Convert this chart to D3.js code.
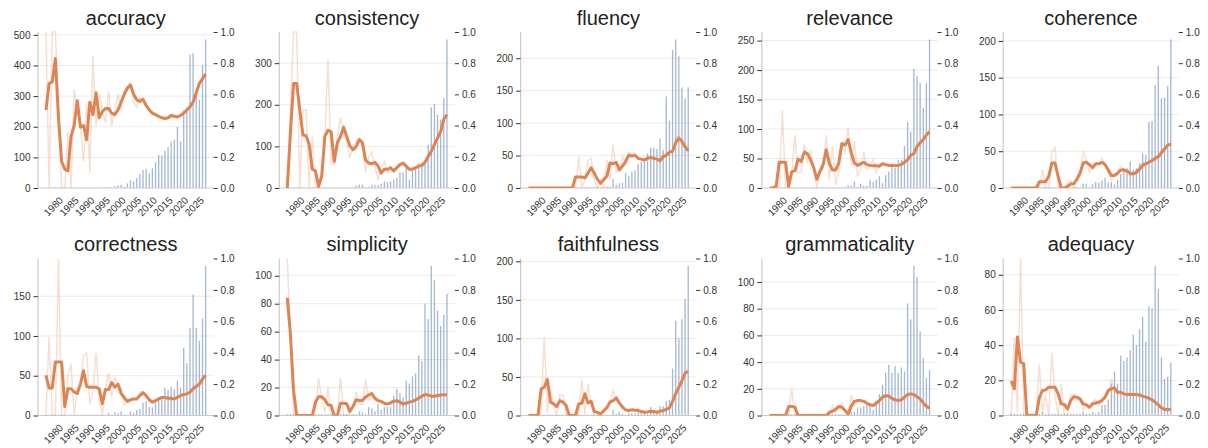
<!DOCTYPE html>
<html>
<head>
<meta charset="utf-8">
<script src="https://cdn.jsdelivr.net/npm/d3@7"></script>
<style>
  body { margin: 0; background: #fff; }
  text { font-family: "Liberation Sans", Arial, sans-serif; }
</style>
</head>
<body>
<div id="chart"></div>
<script>
// years on the x axis, one bar / point per year
var years = [1974,1975,1976,1977,1978,1979,1980,1981,1982,1983,
             1984,1985,1986,1987,1988,1989,1990,1991,1992,1993,
             1994,1995,1996,1997,1998,1999,2000,2001,2002,2003,
             2004,2005,2006,2007,2008,2009,2010,2011,2012,2013,
             2014,2015,2016,2017,2018,2019,2020,2021,2022,2023,
             2024,2025];
var xTickYears = [1980,1985,1990,1995,2000,2005,2010,2015,2020,2025];
var ratioTicks = [0,0.2,0.4,0.6,0.8,1.0];

//counts (bars, left axis), raw ratio (faint line) and smoothed ratio (thick line)
var accuracyCounts = [1,1,1,2,1,1,1,1,1,1, 1,1,1,1,1,1,1,2,2,2, 3,2,6,9,11,4,15,25,22,32,
                      45,58,62,48,64,84,108,106,121,134, 152,158,199,152,253,261,435,440,325,288, 400,485];
var accuracyRatio  = [1.0,0.0,1.0,1.0,0.5,0.0,0.0,0.36,0.0,0.63, 0.5,0.4,0.17,0.55,0.1,0.85,0.4,0.6,0.5,0.42,
                      0.62,0.4,0.5,0.6,0.5,0.62,0.65,0.68,0.55,0.52, 0.58,0.55,0.52,0.5,0.47,0.47,0.45,0.45,0.44,0.45,
                      0.47,0.46,0.45,0.47,0.49,0.5,0.52,0.56,0.62,0.68, 0.71,0.74];
var accuracySmooth = [0.50,0.67,0.68,0.83,0.45,0.17,0.12,0.11,0.33,0.40, 0.56,0.39,0.40,0.31,0.55,0.47,0.61,0.45,0.49,0.51,
                      0.51,0.48,0.47,0.50,0.55,0.60,0.64,0.66,0.60,0.565, 0.555,0.57,0.53,0.50,0.48,0.47,0.46,0.45,0.445,0.45,
                      0.465,0.46,0.455,0.465,0.48,0.50,0.52,0.55,0.61,0.67, 0.70,0.73];

var consistencyCounts = [1,1,1,1,1,1,1,1,1,1, 1,1,1,1,1,1,1,1,1,1, 1,1,6,8,8,2,3,8,7,7,
                         10,16,14,16,20,24,38,38,48,20, 44,52,60,60,60,104,194,202,176,164, 216,357];
var consistencyRatio  = [0.0,0.5,1.0,1.0,0.0,0.5,0.5,0.0,0.33,0.0, 0.0,0.1,0.33,0.82,0.15,0.15,0.33,0.45,0.35,0.3,
                         0.2,0.25,0.3,0.32,0.3,0.1,0.2,0.23,0.14,0.05, 0.13,0.17,0.1,0.12,0.12,0.14,0.16,0.15,0.13,0.11,
                         0.13,0.14,0.14,0.15,0.18,0.21,0.24,0.29,0.33,0.38, 0.45,0.47];
var consistencySmooth = [0.0,0.35,0.67,0.67,0.50,0.34,0.335,0.28,0.12,0.11, 0.01,0.075,0.33,0.37,0.36,0.17,0.29,0.33,0.39,0.33,
                         0.27,0.245,0.265,0.31,0.29,0.18,0.16,0.155,0.165,0.14, 0.095,0.12,0.12,0.13,0.11,0.13,0.15,0.16,0.14,0.12,
                         0.12,0.13,0.14,0.145,0.165,0.20,0.235,0.28,0.32,0.36, 0.44,0.47];

var fluencyCounts = [1,1,1,1,1,1,1,1,1,1, 1,1,1,1,1,1,1,1,1,1, 1,1,2,1,1,2,2,14,5,7,
                     8,23,19,25,27,37,41,45,53,62, 62,60,76,59,141,104,213,229,203,155, 138,155];
var fluencyRatio  = [0,0,0,0,0,0,0,0,0,0, 0,0,0,0,0,0.0,0.2,0.0,0.05,0.18,
                     0.19,0.05,0.0,0.05,0.0,0.18,0.05,0.28,0.1,0.12, 0.2,0.15,0.23,0.2,0.22,0.18,0.19,0.17,0.2,0.19,
                     0.19,0.18,0.17,0.22,0.2,0.24,0.22,0.33,0.33,0.28, 0.25,0.23];
var fluencySmooth = [0,0,0,0,0,0,0,0,0,0, 0,0,0,0,0,0.07,0.07,0.07,0.065,0.095,
                     0.13,0.095,0.055,0.03,0.055,0.075,0.16,0.155,0.165,0.115, 0.14,0.17,0.21,0.205,0.21,0.19,0.185,0.18,0.19,0.195,
                     0.19,0.185,0.175,0.20,0.21,0.23,0.235,0.29,0.32,0.30, 0.265,0.24];

var relevanceCounts = [1,1,1,1,1,1,1,1,1,1, 1,1,1,1,1,1,1,1,1,1, 1,1,1,1,2,5,4,11,2,7,
                       4,4,14,10,14,20,8,22,28,36, 34,48,48,71,112,96,202,190,178,136, 178,252];
var relevanceRatio  = [0,0,0,0,0.5,0,0,0.1,0.34,0.1, 0.1,0.28,0.16,0.24,0.12,0,0.12,0.12,0.34,0.05,
                       0.27,0.02,0.1,0.28,0.22,0.39,0.15,0.3,0.08,0.12, 0.23,0.12,0.14,0.18,0.1,0.15,0.16,0.14,0.15,0.14,
                       0.15,0.14,0.15,0.17,0.18,0.22,0.21,0.27,0.29,0.31, 0.35,0.37];
var relevanceSmooth = [0,0,0.01,0.165,0.165,0.165,0.01,0.105,0.11,0.185, 0.17,0.23,0.22,0.18,0.13,0.055,0.105,0.15,0.245,0.16,
                       0.115,0.115,0.16,0.285,0.275,0.31,0.225,0.16,0.145,0.155, 0.165,0.15,0.145,0.143,0.143,0.14,0.155,0.15,0.145,0.145,
                       0.143,0.145,0.15,0.165,0.18,0.21,0.22,0.265,0.29,0.31, 0.34,0.36];

var coherenceCounts = [1,1,1,1,1,1,1,1,1,1, 1,1,1,1,1,1,1,1,1,1, 1,1,1,6,6,1,5,8,7,10,
                       14,8,8,5,11,19,27,27,36,25, 27,34,47,45,90,91,140,166,122,123, 139,202];
var coherenceRatio  = [0,0,0,0,0,0,0,0,0,0, 0.12,0,0,0.23,0.26,0,0,0,0.03,0.05,
                       0,0.08,0.09,0.23,0.18,0.1,0.16,0.15,0.15,0.19, 0.16,0.1,0.05,0.09,0.1,0.14,0.11,0.1,0.08,0.09,
                       0.11,0.13,0.16,0.16,0.17,0.18,0.2,0.21,0.24,0.26, 0.27,0.3];
var coherenceSmooth = [0,0,0,0,0,0,0,0,0,0.04, 0.04,0.04,0.075,0.16,0.16,0.075,0,0,0.01,0.025,
                       0.028,0.055,0.095,0.16,0.165,0.15,0.13,0.155,0.155,0.165, 0.15,0.115,0.08,0.08,0.095,0.115,0.115,0.11,0.095,0.09,
                       0.10,0.12,0.145,0.155,0.165,0.175,0.19,0.20,0.225,0.25, 0.275,0.28];

var correctnessCounts = [1,1,1,1,1,1,1,1,1,1, 1,1,1,1,1,1,1,1,1,1, 3,1,4,3,5,1,1,5,3,7,
                         8,16,18,11,10,16,23,24,35,32, 36,33,44,35,85,66,110,152,110,94, 122,188];
var correctnessRatio  = [0,0.5,0,0,1.0,0,0,0.25,0.33,0, 0.17,0.2,0.38,0.4,0.07,0.15,0.4,0.1,0,0.17,
                         0.27,0.12,0.24,0.2,0.17,0.07,0.1,0.1,0.11,0.1, 0.15,0.15,0.12,0.09,0.08,0.1,0.11,0.12,0.11,0.11,
                         0.1,0.11,0.12,0.13,0.14,0.14,0.15,0.18,0.19,0.21, 0.24,0.26];
var correctnessSmooth = [0.255,0.175,0.175,0.34,0.34,0.34,0.057,0.17,0.17,0.15, 0.14,0.20,0.285,0.185,0.18,0.18,0.18,0.17,0.075,0.165,
                         0.165,0.21,0.18,0.20,0.14,0.115,0.09,0.10,0.105,0.105, 0.127,0.145,0.127,0.10,0.085,0.095,0.105,0.115,0.115,0.11,
                         0.11,0.105,0.115,0.127,0.133,0.138,0.148,0.17,0.185,0.20, 0.233,0.255];

var simplicityCounts = [1,1,1,1,1,1,1,1,1,1, 1,1,1,1,1,1,1,1,1,1, 1,1,1,3,2,1,6,5,3,8,
                        4,6,6,6,14,19,16,13,25,23, 28,30,43,39,80,69,107,97,75,64, 72,87];
var simplicityRatio  = [1.0,0.5,0,0,0,0,0,0,0,0.02, 0.24,0.1,0.02,0.18,0.01,0,0,0.24,0,0.0,
                        0.02,0.06,0.15,0.08,0.07,0.23,0.1,0.12,0.1,0.08, 0.09,0.07,0.07,0.09,0.1,0.09,0.08,0.07,0.08,0.09,
                        0.09,0.1,0.12,0.13,0.14,0.13,0.12,0.12,0.13,0.13, 0.13,0.13];
var simplicitySmooth = [0.75,0.52,0.16,0,0,0,0,0,0,0.085, 0.12,0.12,0.10,0.068,0.064,0,0,0.078,0.078,0.075,
                        0.025,0.057,0.10,0.095,0.095,0.117,0.13,0.14,0.11,0.095, 0.09,0.078,0.074,0.08,0.09,0.095,0.085,0.074,0.078,0.085,
                        0.09,0.10,0.11,0.123,0.133,0.13,0.123,0.123,0.127,0.13, 0.133,0.13];

var faithfulnessCounts = [1,1,1,1,1,1,1,1,1,1, 1,1,1,1,1,1,1,1,1,1, 1,1,1,1,1,1,1,7,2,5,
                          2,1,3,3,3,4,3,4,2,11, 6,5,12,12,19,20,61,123,100,125, 151,194];
var faithfulnessRatio  = [0,0,0,0,0.02,0.5,0.02,0.17,0.06,0, 0.13,0.13,0.0,0,0,0,0.0,0.23,0.01,0.2,
                          0.06,0.0,0.0,0.0,0.03,0.05,0.08,0.16,0.1,0.08, 0.06,0.03,0.03,0.04,0.03,0.04,0.02,0.02,0.02,0.03,
                          0.02,0.02,0.03,0.03,0.04,0.05,0.1,0.15,0.19,0.22, 0.28,0.29];
var faithfulnessSmooth = [0,0,0,0,0.17,0.18,0.23,0.085,0.074,0.057, 0.095,0.085,0.064,0,0,0,0.074,0.078,0.138,0.08,
                          0.09,0.025,0.02,0.01,0.03,0.05,0.085,0.095,0.112,0.08, 0.053,0.036,0.032,0.036,0.034,0.032,0.025,0.021,0.023,0.027,
                          0.025,0.021,0.027,0.032,0.038,0.049,0.09,0.138,0.18,0.22, 0.27,0.28];

var grammaticalityCounts = [1,1,1,1,1,1,1,1,1,1, 1,1,1,1,1,1,1,1,1,1, 1,1,1,1,1,2,3,3,6,6,
                            7,9,7,4,11,16,23,32,38,32, 37,32,36,33,84,72,112,104,63,43, 28,34];
var grammaticalityRatio  = [0,0,0,0,0,0,0,0.17,0,0, 0,0,0,0,0,0,0,0,0,0.0,
                            0.06,0.02,0.04,0.08,0.04,0.0,0.13,0.06,0.1,0.1, 0.09,0.07,0.07,0.06,0.09,0.1,0.13,0.12,0.13,0.1,
                            0.1,0.09,0.1,0.12,0.14,0.14,0.13,0.12,0.1,0.08, 0.05,0.05];
var grammaticalitySmooth = [0,0,0,0,0,0,0.057,0.057,0.053,0, 0,0,0,0,0,0,0,0,0,0.02,
                            0.027,0.04,0.057,0.053,0.032,0.01,0.06,0.09,0.095,0.095, 0.09,0.078,0.068,0.064,0.078,0.095,0.117,0.127,0.123,0.11,
                            0.10,0.095,0.10,0.117,0.133,0.138,0.133,0.12,0.106,0.08, 0.06,0.047];

var adequacyCounts = [1,1,1,1,1,1,1,1,1,1, 2,1,1,1,1,1,1,1,1,1, 1,1,1,2,1,1,2,1,2,6,
                      6,9,18,25,18,34,31,33,37,46, 40,49,56,42,62,61,85,72,33,21, 22,30];
var adequacyRatio  = [0,0.5,0.02,1.0,0,0,0,0,0,0.33, 0.02,0.13,0.0,0.4,0.13,0.0,0.2,0.0,0.0,0.13,
                      0.14,0.1,0.1,0.03,0.08,0.05,0.09,0.1,0.06,0.1, 0.12,0.13,0.23,0.16,0.14,0.15,0.14,0.13,0.14,0.13,
                      0.13,0.13,0.12,0.12,0.11,0.1,0.08,0.07,0.05,0.04, 0.03,0.045];
var adequacySmooth = [0.22,0.17,0.50,0.34,0.33,0,0,0,0,0.115, 0.16,0.163,0.18,0.18,0.18,0.138,0.074,0.07,0.042,0.095,
                      0.12,0.117,0.106,0.074,0.068,0.053,0.074,0.08,0.085,0.095, 0.117,0.16,0.17,0.176,0.148,0.148,0.138,0.133,0.133,0.133,
                      0.133,0.131,0.123,0.117,0.11,0.10,0.085,0.068,0.049,0.038, 0.038,0.038];

var metrics = ["accuracy","consistency","fluency","relevance","coherence",
               "correctness","simplicity","faithfulness","grammaticality","adequacy"];
var panels = [
  {name: metrics[0], counts: accuracyCounts, ratio: accuracyRatio, smooth: accuracySmooth},
  {name: metrics[1], counts: consistencyCounts, ratio: consistencyRatio, smooth: consistencySmooth},
  {name: metrics[2], counts: fluencyCounts, ratio: fluencyRatio, smooth: fluencySmooth},
  {name: metrics[3], counts: relevanceCounts, ratio: relevanceRatio, smooth: relevanceSmooth},
  {name: metrics[4], counts: coherenceCounts, ratio: coherenceRatio, smooth: coherenceSmooth},
  {name: metrics[5], counts: correctnessCounts, ratio: correctnessRatio, smooth: correctnessSmooth},
  {name: metrics[6], counts: simplicityCounts, ratio: simplicityRatio, smooth: simplicitySmooth},
  {name: metrics[7], counts: faithfulnessCounts, ratio: faithfulnessRatio, smooth: faithfulnessSmooth},
  {name: metrics[8], counts: grammaticalityCounts, ratio: grammaticalityRatio, smooth: grammaticalitySmooth},
  {name: metrics[9], counts: adequacyCounts, ratio: adequacyRatio, smooth: adequacySmooth}
];

/////////////////////////////////////////////////////////
////////////////////// Layout ///////////////////////////
/////////////////////////////////////////////////////////
var W = 1208, H = 448;
var colX0 = 38, colStep = 241.3, axW = 175.6;
var rows = [{top: 32, bottom: 188}, {top: 258.5, bottom: 415.5}];
var orange = "#dd8452", blue = "#4c72b0", ink = "#333";

var svg = d3.select("#chart").append("svg")
  .attr("width", W)
  .attr("height", H);

var defs = svg.append("defs");

panels.forEach(function(p, i) {
  var col = i % 5, row = Math.floor(i / 5);
  var left = colX0 + col * colStep, right = left + axW;
  var top = rows[row].top, bottom = rows[row].bottom;

  var span = years[years.length - 1] - years[0];
  var x = d3.scaleLinear()
    .domain([years[0] - span * 0.05, years[years.length - 1] + span * 0.05])
    .range([left, right]);
  var yL = d3.scaleLinear()
    .domain([0, d3.max(p.counts) * 1.05])
    .range([bottom, top]);
  var yR = d3.scaleLinear()
    .domain([0, 1])
    .range([bottom, top]);

  var g = svg.append("g").attr("class", "panel");

  //clip for the lines
  defs.append("clipPath").attr("id", "clip" + i)
    .append("rect")
    .attr("x", left).attr("y", top - 1)
    .attr("width", axW).attr("height", bottom - top + 1);

  //grid from the left (count) axis
  g.append("g").selectAll("line")
    .data(yL.ticks(5).filter(function(d){ return d > 0; }))
    .join("line")
    .attr("x1", left).attr("x2", right)
    .attr("y1", function(d){ return yL(d); })
    .attr("y2", function(d){ return yL(d); })
    .style("stroke", "#ebebeb")
    .style("stroke-width", 1);

  //bars
  var step = x(years[1]) - x(years[0]);
  var bw = step * 0.42;
  g.append("g").selectAll("rect")
    .data(years)
    .join("rect")
    .attr("x", function(d){ return x(d) - bw / 2; })
    .attr("width", bw)
    .attr("y", function(d, j){ return yL(p.counts[j]); })
    .attr("height", function(d, j){ return bottom - yL(p.counts[j]); })
    .style("fill", blue)
    .style("fill-opacity", 0.5);

  //spines
  g.append("line")
    .attr("x1", left).attr("x2", left)
    .attr("y1", top).attr("y2", bottom)
    .style("stroke", "#cccccc").style("stroke-width", 1.2);
  g.append("line")
    .attr("x1", left).attr("x2", right)
    .attr("y1", bottom).attr("y2", bottom)
    .style("stroke", "#cccccc").style("stroke-width", 1.2);

  //left axis
  var axL = g.append("g")
    .attr("transform", "translate(" + left + ",0)")
    .call(d3.axisLeft(yL).ticks(5).tickSize(4.5).tickSizeOuter(0).tickPadding(3));
  axL.select(".domain").remove();
  axL.selectAll("line").style("stroke", ink);
  axL.selectAll("text").style("font-size", "10px").style("fill", ink)
    .style("font-family", '"Liberation Sans", Arial, sans-serif');

  //right axis (ratio)
  var axR = g.append("g")
    .attr("transform", "translate(" + right + ",0)")
    .call(d3.axisRight(yR).tickValues(ratioTicks).tickFormat(d3.format(".1f"))
      .tickSize(4).tickSizeOuter(0).tickPadding(3));
  axR.select(".domain").remove();
  axR.selectAll("line").style("stroke", ink);
  axR.selectAll("text").style("font-size", "10px").style("fill", ink)
    .style("font-family", '"Liberation Sans", Arial, sans-serif');

  //x axis, rotated labels
  var axB = g.append("g")
    .attr("transform", "translate(0," + bottom + ")")
    .call(d3.axisBottom(x).tickValues(xTickYears).tickFormat(d3.format("d")).tickSize(0));
  axB.select(".domain").remove();
  axB.selectAll("text")
    .attr("y", null).attr("dy", null)
    .attr("text-anchor", "end")
    .attr("transform", "translate(-1.5,13) rotate(-45)")
    .style("font-size", "10px").style("fill", ink)
    .style("font-family", '"Liberation Sans", Arial, sans-serif');

  //raw ratio (faint) and smoothed ratio (thick)
  var lineG = g.append("g").attr("clip-path", "url(#clip" + i + ")");
  var rawLine = d3.line()
    .x(function(d){ return x(d); })
    .y(function(d, j){ return yR(p.ratio[j]); });
  var smoothLine = d3.line()
    .x(function(d){ return x(d); })
    .y(function(d, j){ return yR(p.smooth[j]); });

  lineG.append("path")
    .attr("d", rawLine(years))
    .style("fill", "none")
    .style("stroke", orange)
    .style("stroke-opacity", 0.25)
    .style("stroke-width", 1.5);
  lineG.append("path")
    .attr("d", smoothLine(years))
    .style("fill", "none")
    .style("stroke", orange)
    .style("stroke-width", 3)
    .style("stroke-linejoin", "round");

  //title
  g.append("text")
    .attr("x", left + axW / 2)
    .attr("y", top - 7.5)
    .attr("text-anchor", "middle")
    .style("font-size", "20px")
    .style("fill", "#222")
    .text(p.name);
});
</script>
</body>
</html>
